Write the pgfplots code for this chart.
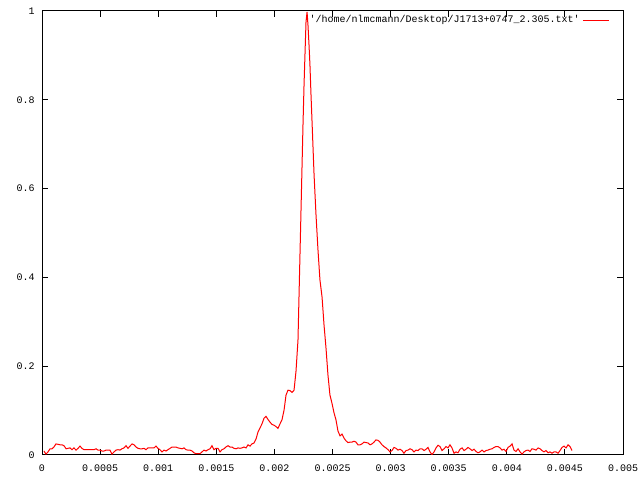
\documentclass[border=0pt]{standalone}
\usepackage{fontspec}
\setmonofont{Liberation Mono}
\usepackage{pgfplots}
\pgfplotsset{compat=1.18}
\begin{document}
\begin{tikzpicture}
\begin{axis}[
  name=ax,
  scale only axis, width=435.75pt, height=333pt,
  xmin=0, xmax=0.005, ymin=0, ymax=1,
  xtick={0,0.0005,0.001,0.0015,0.002,0.0025,0.003,0.0035,0.004,0.0045,0.005},
  xticklabels={0,0.0005,0.001,0.0015,0.002,0.0025,0.003,0.0035,0.004,0.0045,0.005},
  ytick={0,0.2,0.4,0.6,0.8,1},
  yticklabels={0,0.2,0.4,0.6,0.8,1},
  tick align=inside, major tick length=4.5pt,
  tick style={black, line width=0.75pt},
  axis line style={black, line width=0.75pt},
  ticklabel style={font=\ttfamily\fontsize{7.5}{8}\selectfont, inner sep=0pt},
  xticklabel style={yshift=-7.5pt},
  yticklabel style={xshift=-5.25pt},
  legend plot pos=right,
  legend cell align=right,
  legend style={draw=none, fill=none, at={(0.978,0.996)}, anchor=north east,
    inner sep=0pt, font=\ttfamily\fontsize{7.5}{8}\selectfont,
    /tikz/every even column/.append style={column sep=6pt}},
  legend image code/.code={\draw[#1] (0pt,0pt) -- (20pt,0pt);},
]
\addplot[red, line width=0.75pt] coordinates {
(0.000017,0.009) (0.000034,0.002) (0.000052,0.007) (0.000069,0.014) (0.000086,0.014) (0.000103,0.018) (0.000120,0.025) (0.000138,0.024) (0.000155,0.023) (0.000172,0.023) (0.000189,0.021) (0.000207,0.014) (0.000224,0.015) (0.000241,0.016) (0.000258,0.012) (0.000275,0.016) (0.000293,0.011) (0.000310,0.015) (0.000327,0.020) (0.000344,0.015) (0.000361,0.012) (0.000379,0.012) (0.000396,0.012) (0.000413,0.012) (0.000430,0.012) (0.000448,0.012) (0.000465,0.014) (0.000482,0.011) (0.000499,0.011) (0.000516,0.009) (0.000534,0.009) (0.000551,0.011) (0.000568,0.011) (0.000585,0.011) (0.000602,0.002) (0.000620,0.007) (0.000637,0.011) (0.000654,0.012) (0.000671,0.011) (0.000688,0.014) (0.000706,0.016) (0.000723,0.021) (0.000740,0.015) (0.000757,0.020) (0.000775,0.025) (0.000792,0.023) (0.000809,0.018) (0.000826,0.015) (0.000843,0.014) (0.000861,0.014)
(0.000878,0.015) (0.000895,0.012) (0.000912,0.016) (0.000929,0.016) (0.000947,0.016) (0.000964,0.016) (0.000981,0.020) (0.000998,0.015) (0.001015,0.012) (0.001033,0.007) (0.001050,0.011) (0.001067,0.009) (0.001084,0.012) (0.001102,0.015) (0.001119,0.018) (0.001136,0.018) (0.001153,0.018) (0.001170,0.016) (0.001188,0.015) (0.001205,0.014) (0.001222,0.016) (0.001239,0.012) (0.001256,0.011) (0.001274,0.011) (0.001291,0.009) (0.001308,0.005) (0.001325,0.003) (0.001343,0.003) (0.001360,0.003) (0.001377,0.007) (0.001394,0.011) (0.001411,0.009) (0.001429,0.012) (0.001446,0.014) (0.001463,0.021) (0.001480,0.012) (0.001497,0.015) (0.001515,0.015) (0.001532,0.007) (0.001549,0.012) (0.001566,0.014) (0.001583,0.018) (0.001601,0.021) (0.001618,0.018) (0.001635,0.018) (0.001652,0.015) (0.001670,0.014) (0.001687,0.016) (0.001704,0.015) (0.001721,0.016)
(0.001738,0.018) (0.001756,0.016) (0.001773,0.023) (0.001790,0.020) (0.001807,0.025) (0.001824,0.027) (0.001842,0.036) (0.001859,0.052) (0.001876,0.061) (0.001893,0.070) (0.001911,0.083) (0.001928,0.087) (0.001945,0.080) (0.001962,0.074) (0.001979,0.069) (0.001997,0.067) (0.002014,0.064) (0.002031,0.060) (0.002048,0.070) (0.002065,0.079) (0.002083,0.101) (0.002100,0.135) (0.002117,0.146) (0.002134,0.145) (0.002152,0.141) (0.002169,0.146) (0.002186,0.189) (0.002203,0.259) (0.002220,0.450) (0.002238,0.653) (0.002246,0.743) (0.002255,0.833) (0.002263,0.901) (0.002272,0.975) (0.002281,0.998) (0.002289,0.968) (0.002298,0.923) (0.002306,0.878) (0.002315,0.811) (0.002324,0.750) (0.002341,0.633) (0.002358,0.541) (0.002375,0.462) (0.002392,0.394) (0.002410,0.356) (0.002427,0.293) (0.002444,0.241) (0.002461,0.180) (0.002478,0.135) (0.002496,0.116) (0.002513,0.095) (0.002530,0.079) (0.002547,0.054) (0.002565,0.043) (0.002582,0.047)
(0.002599,0.038) (0.002616,0.032) (0.002633,0.028) (0.002651,0.029) (0.002668,0.029) (0.002685,0.031) (0.002702,0.029) (0.002719,0.023) (0.002737,0.023) (0.002754,0.025) (0.002771,0.029) (0.002788,0.028) (0.002806,0.027) (0.002823,0.023) (0.002840,0.025) (0.002857,0.029) (0.002874,0.034) (0.002892,0.033) (0.002909,0.029) (0.002926,0.023) (0.002943,0.019) (0.002960,0.016) (0.002978,0.012) (0.002995,0.007) (0.003012,0.010) (0.003029,0.017) (0.003047,0.015) (0.003064,0.011) (0.003081,0.013) (0.003098,0.010) (0.003115,0.004) (0.003133,0.010) (0.003150,0.011) (0.003167,0.014) (0.003184,0.012) (0.003201,0.007) (0.003219,0.011) (0.003236,0.010) (0.003253,0.014) (0.003270,0.014) (0.003288,0.010) (0.003305,0.013) (0.003322,0.017) (0.003339,0.007) (0.003356,0.001) (0.003374,0.007) (0.003391,0.016) (0.003408,0.022) (0.003425,0.019) (0.003442,0.010)
(0.003460,0.014) (0.003477,0.019) (0.003494,0.016) (0.003511,0.023) (0.003528,0.016) (0.003546,0.004) (0.003563,0.007) (0.003580,0.005) (0.003597,0.013) (0.003615,0.016) (0.003632,0.010) (0.003649,0.013) (0.003666,0.017) (0.003683,0.014) (0.003701,0.010) (0.003718,0.013) (0.003735,0.008) (0.003752,0.005) (0.003769,0.007) (0.003787,0.011) (0.003804,0.007) (0.003821,0.010) (0.003838,0.011) (0.003856,0.013) (0.003873,0.014) (0.003890,0.017) (0.003907,0.019) (0.003924,0.019) (0.003942,0.016) (0.003959,0.011) (0.003976,0.013) (0.003993,0.008) (0.004010,0.017) (0.004028,0.020) (0.004045,0.025) (0.004062,0.011) (0.004079,0.008) (0.004097,0.014) (0.004114,0.007) (0.004131,0.002) (0.004148,0.007) (0.004165,0.010) (0.004183,0.011) (0.004200,0.008) (0.004217,0.014) (0.004234,0.013) (0.004251,0.011) (0.004269,0.016) (0.004286,0.014) (0.004303,0.010) (0.004320,0.007) (0.004337,0.010) (0.004355,0.005) (0.004372,0.007) (0.004389,0.004) (0.004406,0.007) (0.004423,0.007) (0.004441,0.004) (0.004458,0.010) (0.004475,0.017) (0.004492,0.020) (0.004510,0.016) (0.004527,0.023) (0.004544,0.019) (0.004561,0.010)
};
\addlegendentry{'/home/nlmcmann/Desktop/J1713+0747\_2.305.txt'}
\end{axis}
\pgfresetboundingbox
\path[use as bounding box] ([shift={(-31.5pt,-18.75pt)}]ax.south west) rectangle ([shift={(12.75pt,8.25pt)}]ax.north east);
\end{tikzpicture}
\end{document}
